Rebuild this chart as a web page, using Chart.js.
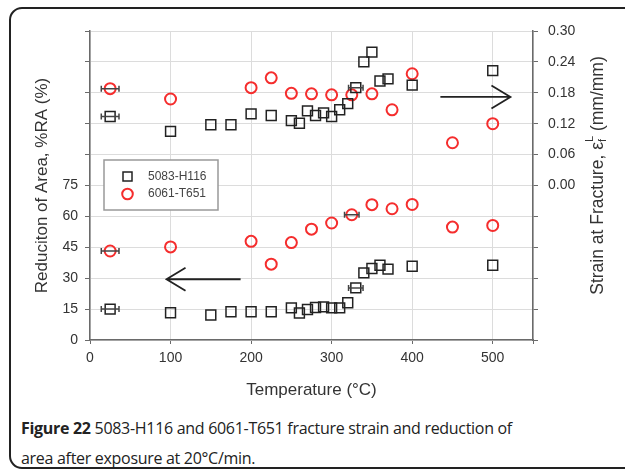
<!DOCTYPE html>
<html>
<head>
<meta charset="utf-8">
<script src="https://cdn.jsdelivr.net/npm/chart.js@4.4.1/dist/chart.umd.min.js"></script>
<style>
  html, body { margin: 0; padding: 0; background: #fff; overflow: hidden; }
  body { width: 625px; height: 471px; position: relative; }
  #frame {
    position: absolute; left: 9px; top: 7px; width: 700px; height: 462px;
    border: 2px solid #222; border-radius: 13px; box-sizing: border-box;
  }
  #wrap { position: absolute; left: 0; top: 0; width: 625px; height: 410px; }
  #caption {
    position: absolute; left: 21px; top: 413px; width: 500px;
    font-family: "Open Sans", sans-serif; font-size: 16px; letter-spacing: -0.3px;
    line-height: 30px; color: #222;
  }
  #caption b { font-weight: 700; }
</style>
</head>
<body>
<div id="frame"></div>
<div id="wrap"><canvas id="chart"></canvas></div>
<div id="caption"><b>Figure 22</b> 5083-H116 and 6061-T651 fracture strain and reduction of area after exposure at 20°C/min.</div>
<script>
// --- Data ---
const temps5083 = [25, 100, 150, 175, 200, 225, 250, 260, 270, 280, 290, 300, 310, 320, 330, 340, 350, 360, 370, 400, 500];
const strain5083 = [0.134, 0.105, 0.118, 0.118, 0.139, 0.136, 0.126, 0.121, 0.145, 0.136, 0.141, 0.134, 0.147, 0.159, 0.190, 0.240, 0.259, 0.203, 0.207, 0.195, 0.223];
const ra5083 = [15.0, 13.2, 12.1, 13.7, 13.7, 13.7, 15.6, 13.1, 14.8, 15.8, 16.1, 15.6, 15.6, 18.1, 25.3, 32.6, 34.7, 36.3, 34.4, 35.8, 36.3];

const temps6061 = [25, 100, 200, 225, 250, 275, 300, 325, 350, 375, 400, 450, 500];
const strain6061 = [0.188, 0.168, 0.190, 0.209, 0.179, 0.178, 0.176, 0.176, 0.178, 0.147, 0.217, 0.083, 0.120];
const ra6061 = [43.2, 45.2, 47.9, 36.8, 47.3, 53.8, 56.8, 60.8, 65.7, 63.7, 65.8, 54.8, 55.6];

// horizontal error bars: [temperature, value, axis, half width in degC]
const errorBars = [
    [25, 0.134, 'y2', 11],
    [25, 0.188, 'y2', 11],
    [330, 0.190, 'y2', 9],
    [25, 15.0, 'y', 11],
    [25, 43.2, 'y', 11],
    [325, 60.8, 'y', 9],
    [330, 25.3, 'y', 9],
];

// direction arrows: [fromTemp, toTemp, value, axis]
const arrows = [
    [187, 95, 29.5, 'y'],
    [435, 522, 0.172, 'y2'],
];

const seriesNames = ['5083-H116', '6061-T651'];

const xTicks = { min: 0, max: 550, step: 100, lastLabel: 500 };
const raTicks = { min: 0, max: 150, step: 15, lastLabel: 75 };
const strainTicks = { min: -0.30, max: 0.30, step: 0.06 };

const RED = 'rgb(245, 45, 45)';
const DARK = '#222';
const AXIS = '#6a6a6a';
const TEXT = '#333';

const pts = (xs, ys) => xs.map((x, i) => ({ x, y: ys[i] }));

// --- Extras drawn on top: error bars, arrows, legend, right title ---
const extras = {
    id: 'extras',
    afterDatasetsDraw(chart) {
        const { ctx, chartArea, scales } = chart;
        const xs = scales.x;

        ctx.save();
        // error bars
        ctx.strokeStyle = '#444';
        ctx.lineWidth = 1.5;
        errorBars.forEach(([t, v, ax, dx]) => {
            const y = scales[ax].getPixelForValue(v);
            const x1 = xs.getPixelForValue(t - dx);
            const x2 = xs.getPixelForValue(t + dx);
            ctx.beginPath();
            ctx.moveTo(x1, y); ctx.lineTo(x2, y);
            ctx.moveTo(x1, y - 3); ctx.lineTo(x1, y + 3);
            ctx.moveTo(x2, y - 3); ctx.lineTo(x2, y + 3);
            ctx.stroke();
        });

        // arrows
        ctx.strokeStyle = DARK;
        ctx.lineWidth = 1.8;
        arrows.forEach(([t1, t2, v, ax]) => {
            const y = scales[ax].getPixelForValue(v);
            const x1 = xs.getPixelForValue(t1);
            const x2 = xs.getPixelForValue(t2);
            const dir = Math.sign(x2 - x1);
            ctx.beginPath();
            ctx.moveTo(x1, y); ctx.lineTo(x2, y);
            ctx.moveTo(x2 - dir * 19, y - 11.5); ctx.lineTo(x2, y); ctx.lineTo(x2 - dir * 19, y + 11.5);
            ctx.stroke();
        });

        // legend box
        const lx = chartArea.left + 14, ly = chartArea.top + 129;
        ctx.fillStyle = '#fff';
        ctx.fillRect(lx, ly, 114, 50);
        ctx.strokeStyle = '#999';
        ctx.lineWidth = 1.5;
        ctx.strokeRect(lx, ly, 114, 50);
        ctx.strokeStyle = DARK;
        ctx.strokeRect(lx + 19, ly + 12, 9, 9);
        ctx.strokeStyle = RED;
        ctx.lineWidth = 2;
        ctx.beginPath();
        ctx.arc(lx + 23.5, ly + 34, 5.3, 0, Math.PI * 2);
        ctx.stroke();
        ctx.fillStyle = '#444';
        ctx.font = '12px "Liberation Sans", Arial, sans-serif';
        ctx.textBaseline = 'middle';
        ctx.fillText(seriesNames[0], lx + 44, ly + 17);
        ctx.fillText(seriesNames[1], lx + 44, ly + 34);

        // right axis title with sub/superscript
        ctx.translate(598, (chartArea.top + chartArea.bottom) / 2 - 10);
        ctx.rotate(-Math.PI / 2);
        ctx.fillStyle = TEXT;
        const big = '17.5px "Liberation Sans", Arial, sans-serif';
        const small = '11px "Liberation Sans", Arial, sans-serif';
        const parts = [
            ['Strain at Fracture, \u03b5', big],
            ['f', small],
            ['L', small],
            [' (mm/mm)', big],
        ];
        const widths = parts.map(([s, f]) => { ctx.font = f; return ctx.measureText(s).width; });
        const total = widths[0] + Math.max(widths[1], widths[2]) + widths[3];
        let cx = -total / 2;
        ctx.textAlign = 'left';
        ctx.font = big; ctx.fillText(parts[0][0], cx, 0); cx += widths[0];
        ctx.font = small; ctx.fillText('f', cx, 5); ctx.fillText('L', cx, -8); cx += Math.max(widths[1], widths[2]);
        ctx.font = big; ctx.fillText(parts[3][0], cx, 0);
        ctx.restore();
    }
};

Chart.defaults.font.family = '"Liberation Sans", Arial, sans-serif';
Chart.defaults.color = TEXT;

new Chart(document.getElementById('chart'), {
    type: 'scatter',
    data: {
        datasets: [
            {
                label: seriesNames[0] + ' strain', data: pts(temps5083, strain5083), yAxisID: 'y2',
                pointStyle: 'rect', pointRadius: 7, borderColor: DARK, borderWidth: 1.5, backgroundColor: 'rgba(0,0,0,0)'
            },
            {
                label: seriesNames[1] + ' strain', data: pts(temps6061, strain6061), yAxisID: 'y2',
                pointStyle: 'circle', pointRadius: 5.5, borderColor: RED, borderWidth: 2, backgroundColor: 'rgba(0,0,0,0)'
            },
            {
                label: seriesNames[0] + ' RA', data: pts(temps5083, ra5083), yAxisID: 'y',
                pointStyle: 'rect', pointRadius: 7, borderColor: DARK, borderWidth: 1.5, backgroundColor: 'rgba(0,0,0,0)'
            },
            {
                label: seriesNames[1] + ' RA', data: pts(temps6061, ra6061), yAxisID: 'y',
                pointStyle: 'circle', pointRadius: 5.5, borderColor: RED, borderWidth: 2, backgroundColor: 'rgba(0,0,0,0)'
            },
        ]
    },
    options: {
        responsive: true,
        maintainAspectRatio: false,
        animation: false,
        layout: { padding: { top: 31, left: 0, right: 0, bottom: 0 } },
        plugins: { legend: { display: false }, tooltip: { enabled: false } },
        scales: {
            x: {
                type: 'linear', min: xTicks.min, max: xTicks.max,
                afterFit: s => { s.height = 70; },
                border: { color: AXIS, width: 1.5 },
                grid: { color: '#dcdcdc', lineWidth: 1, tickColor: AXIS, tickLength: 4 },
                ticks: {
                    stepSize: xTicks.step, padding: 6, color: TEXT, font: { size: 14 },
                    callback: v => v <= xTicks.lastLabel ? String(v) : ''
                },
                title: { display: true, text: 'Temperature (\u00b0C)', color: TEXT, font: { size: 17 }, padding: { top: 0, bottom: 9 } }
            },
            y: {
                position: 'left', min: raTicks.min, max: raTicks.max,
                afterFit: s => { s.width = 90; },
                border: { color: AXIS, width: 1.5 },
                grid: { color: '#dcdcdc', lineWidth: 1, tickColor: AXIS, tickLength: 5 },
                ticks: {
                    stepSize: raTicks.step, padding: 7, color: TEXT, font: { size: 14 },
                    callback: v => v <= raTicks.lastLabel ? String(v) : ''
                },
                title: { display: true, text: 'Reduciton of Area, %RA (%)', color: TEXT, font: { size: 17 }, padding: { top: 32, bottom: 0 } }
            },
            y2: {
                position: 'right', min: strainTicks.min, max: strainTicks.max,
                afterFit: s => { s.width = 92; },
                border: { color: AXIS, width: 1.5 },
                grid: { drawOnChartArea: false, tickColor: AXIS, tickLength: 5 },
                ticks: {
                    stepSize: strainTicks.step, padding: 10, color: TEXT, font: { size: 14 },
                    callback: v => v < -1e-6 ? '' : Math.abs(v).toFixed(2)
                }
            }
        }
    },
    plugins: [extras]
});
</script>
</body>
</html>
